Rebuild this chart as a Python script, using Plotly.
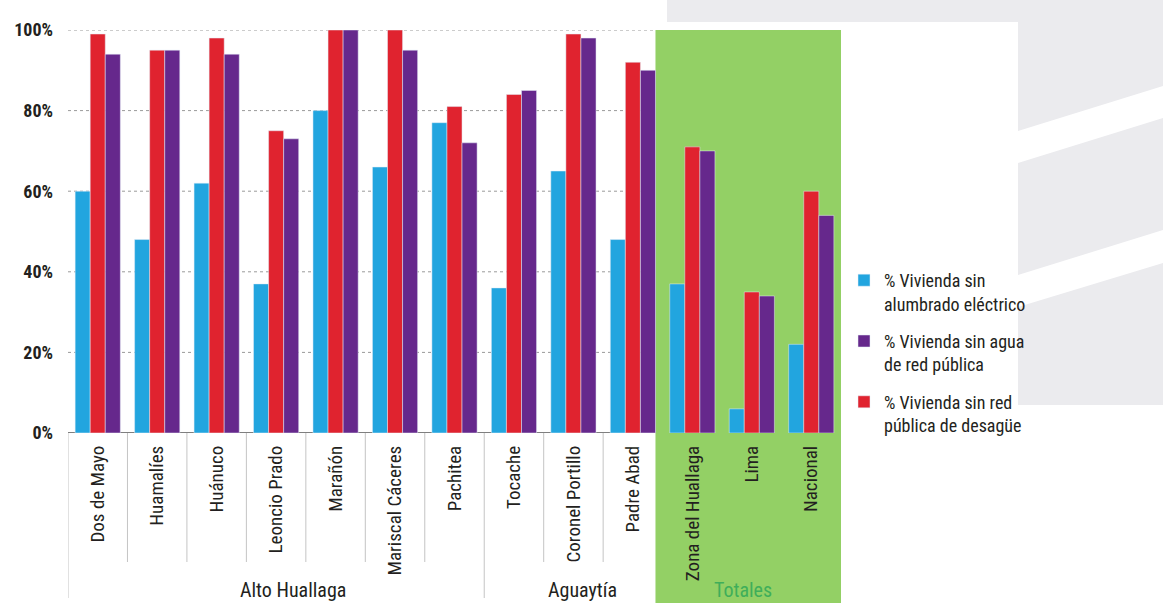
import plotly.graph_objects as go

# ---------------- data ----------------
categories = ["Dos de Mayo", "Huamalíes", "Huánuco", "Leoncio Prado", "Marañón",
              "Mariscal Cáceres", "Pachitea", "Tocache", "Coronel Portillo", "Padre Abad",
              "Zona del Huallaga", "Lima", "Nacional"]
groups = [("Alto Huallaga", 0, 6), ("Aguaytía", 7, 9), ("Totales", 10, 12)]

sin_alumbrado = [60, 48, 62, 37, 80, 66, 77, 36, 65, 48, 37, 6, 22]
sin_desague = [99, 95, 98, 75, 100, 100, 81, 84, 99, 92, 71, 35, 60]
sin_agua = [94, 95, 94, 73, 100, 95, 72, 85, 98, 90, 70, 34, 54]

ytick_vals = [0, 20, 40, 60, 80, 100]
ytick_text = ["0%", "20%", "40%", "60%", "80%", "100%"]

series_names = ["% Vivienda sin<br>alumbrado eléctrico",
                "% Vivienda sin agua<br>de red pública",
                "% Vivienda sin red<br>pública de desagüe"]

# ---------------- style ----------------
W, H = 1163, 605
ML, MR, MT, MB = 68, 322, 30, 172
PW, PH = W - ML - MR, H - MT - MB
NARROW = "Liberation Sans Narrow, Arial Narrow, Roboto Condensed, Roboto, sans-serif"
C_BLUE, C_RED, C_PURPLE = "#22a5df", "#e0232f", "#66288c"
GREEN_BG = "#93d065"
GRAY_BG = "#ebebee"


def px(x):
    return (x - ML) / PW


def py(y):
    return (MT + PH - y) / PH


fig = go.Figure()
fig.add_trace(go.Bar(x=categories, y=sin_alumbrado, name=series_names[0],
                     marker_color=C_BLUE, legendrank=1, legendgroup="a"))
fig.add_trace(go.Bar(x=categories, y=sin_desague, name=series_names[2],
                     marker_color=C_RED, legendrank=3, legendgroup="c"))
fig.add_trace(go.Bar(x=categories, y=sin_agua, name=series_names[1],
                     marker_color=C_PURPLE, legendrank=2, legendgroup="b"))

shapes = []
# decorative gray background on the right
shapes.append(dict(type="path", xref="paper", yref="paper", layer="below",
                   path=f"M{px(667)},{py(0)} L{px(1163)},{py(0)} L{px(1163)},{py(405)} "
                        f"L{px(1018)},{py(405)} L{px(1018)},{py(22)} L{px(667)},{py(22)} Z",
                   fillcolor=GRAY_BG, line_width=0))
for (a0, a1, b0, b1) in [(131, 86, 163, 118), (275, 230, 307, 263)]:
    shapes.append(dict(type="path", xref="paper", yref="paper", layer="below",
                       path=f"M{px(1018)},{py(a0)} L{px(1163)},{py(a1)} L{px(1163)},{py(b1)} "
                            f"L{px(1018)},{py(b0)} Z",
                       fillcolor="white", line_width=0))

# green "Totales" panel
g_start = groups[2][1] - 0.62
g_end = groups[2][2] + 0.6
shapes.append(dict(type="rect", xref="x", yref="paper", layer="below",
                   x0=g_start, x1=g_end, y0=py(603), y1=1,
                   fillcolor=GREEN_BG, line_width=0))

# dotted gridlines (not over the green panel)
for v in ytick_vals[1:]:
    shapes.append(dict(type="line", xref="x", yref="y", layer="below",
                       x0=-0.5, x1=g_start, y0=v, y1=v,
                       line=dict(color="#9a9a9a", width=1, dash="dot")))
# baseline
shapes.append(dict(type="line", xref="x", yref="y", layer="below",
                   x0=-0.5, x1=g_start, y0=0, y1=0,
                   line=dict(color="#555555", width=1.5)))

# category separators
group_starts = [g[1] for g in groups[:2]]
for i in range(0, groups[1][2] + 1):
    long_line = i in group_starts
    shapes.append(dict(type="line", xref="x", yref="paper", layer="below",
                       x0=i - 0.5, x1=i - 0.5, y0=0, y1=py(598 if long_line else 562),
                       line=dict(color="#c4c4c4", width=1)))

annotations = []
label_shift = [17, 9, -9]
label_color = ["#231f20", "#231f20", "#3fae5a"]
for (name, a, b), sh, col in zip(groups, label_shift, label_color):
    annotations.append(dict(text=name, x=(a + b) / 2, xref="x", y=py(604), yref="paper",
                            yanchor="bottom", xanchor="center", xshift=sh, showarrow=False,
                            font=dict(family=NARROW, size=20, color=col)))

fig.update_layout(
    width=W, height=H,
    margin=dict(l=ML, r=MR, t=MT, b=MB, pad=0),
    paper_bgcolor="white", plot_bgcolor="rgba(0,0,0,0)",
    barmode="group", bargap=0.24, bargroupgap=0,
    shapes=shapes, annotations=annotations,
    showlegend=True,
    legend=dict(x=px(844), y=py(262), xanchor="left", yanchor="top",
                font=dict(family=NARROW, size=18, color="#231f20"),
                bgcolor="rgba(0,0,0,0)", itemwidth=30, valign="top",
                tracegroupgap=11),
    font=dict(family=NARROW, color="#231f20"),
)
fig.update_xaxes(range=[-0.5, len(categories) - 0.5], tickangle=-90, showgrid=False,
                 showline=False, zeroline=False, ticks="", ticklabelstandoff=8,
                 tickfont=dict(family=NARROW, size=19, color="#231f20"))
fig.update_yaxes(range=[0, 100], tickvals=ytick_vals, ticktext=ytick_text, showgrid=False,
                 zeroline=False, showline=False, ticks="", ticklabelstandoff=14,
                 tickfont=dict(family=NARROW, size=18, color="#231f20", weight="bold"))

fig.write_html("out.html")
